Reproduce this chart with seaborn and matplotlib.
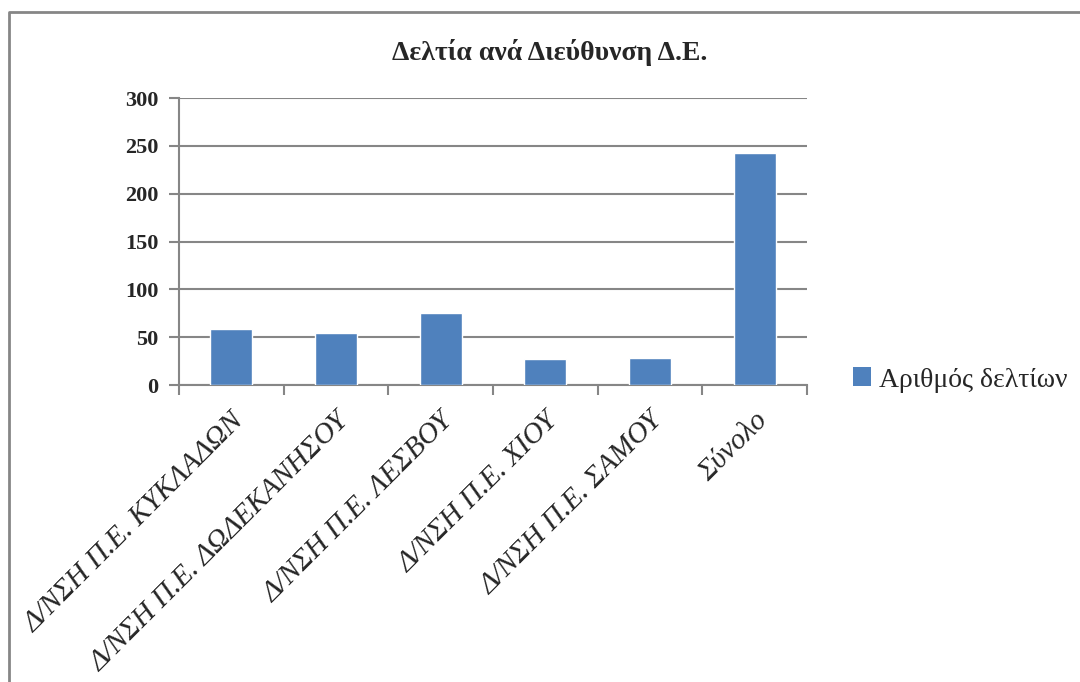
import pandas as pd
import seaborn as sns
import matplotlib.pyplot as plt
from matplotlib.lines import Line2D
from matplotlib.patches import Patch

# Data
regions = [
    "Δ/ΝΣΗ Π.Ε. ΚΥΚΛΑΔΩΝ",
    "Δ/ΝΣΗ Π.Ε. ΔΩΔΕΚΑΝΗΣΟΥ",
    "Δ/ΝΣΗ Π.Ε. ΛΕΣΒΟΥ",
    "Δ/ΝΣΗ Π.Ε. ΧΙΟΥ",
    "Δ/ΝΣΗ Π.Ε. ΣΑΜΟΥ",
    "Σύνολο",
]
counts = [59, 54, 75, 27, 28, 243]
yticks = [0, 50, 100, 150, 200, 250, 300]
series_name = "Αριθμός δελτίων"
title = "Δελτία ανά Διεύθυνση Δ.Ε."
bar_color = "#4F81BD"
grid_color = "#868686"


def main():
    sns.set_theme(style="white")
    plt.rcParams["font.family"] = ["Liberation Serif", "DejaVu Serif"]

    df = pd.DataFrame({"region": regions, "count": counts})

    fig = plt.figure(figsize=(10.8, 6.82), dpi=100)
    ax = fig.add_axes([179 / 1080, 1 - 385 / 682, (807 - 179) / 1080, (385 - 98) / 682])

    sns.barplot(data=df, x="region", y="count", color=bar_color, width=0.4,
                saturation=1, ax=ax, zorder=3)

    ax.set_xlim(-0.5, len(regions) - 0.5)
    ax.set_ylim(0, 300)
    ax.set_yticks(yticks)
    ax.set_yticklabels([str(v) for v in yticks], fontsize=16, fontweight="bold")
    ax.set_xlabel("")
    ax.set_ylabel("")

    # gridlines and spines
    ax.yaxis.grid(True, color=grid_color, linewidth=1.5, zorder=0)
    ax.xaxis.grid(False)
    for side in ["top", "right"]:
        ax.spines[side].set_visible(False)
    for side in ["left", "bottom"]:
        ax.spines[side].set_color(grid_color)
        ax.spines[side].set_linewidth(1.5)

    ax.tick_params(axis="y", which="major", left=True, length=7, width=1.5,
                   color=grid_color, pad=8)
    # category boundary ticks on the x axis
    ax.set_xticks([i - 0.5 for i in range(len(regions) + 1)], minor=True)
    ax.tick_params(axis="x", which="minor", bottom=True, length=7, width=1.5,
                   color=grid_color)
    ax.tick_params(axis="x", which="major", bottom=False, length=0, pad=16)
    ax.set_xticks(range(len(regions)))
    ax.set_xticklabels(regions, rotation=45, ha="right", rotation_mode="anchor",
                       fontsize=21, fontstyle="italic")

    # title
    fig.text(550 / 1080, 1 - 52 / 682, title, ha="center", va="center",
             fontsize=20, fontweight="bold")

    # legend
    handle = Patch(facecolor=bar_color, edgecolor="none", label=series_name)
    fig.legend(handles=[handle], loc="center left",
               bbox_to_anchor=(828 / 1080, 1 - 380 / 682), frameon=False,
               fontsize=20, handlelength=0.65, handleheight=0.65,
               handletextpad=0.3)

    # outer chart border (left and top visible)
    fig.add_artist(Line2D([9 / 1080, 9 / 1080, 1.01], [-0.01, 1 - 12 / 682, 1 - 12 / 682],
                          transform=fig.transFigure, color=grid_color, linewidth=2))

    fig.savefig("out.png", dpi=100)
    print("Chart saved to out.png")


if __name__ == "__main__":
    main()
